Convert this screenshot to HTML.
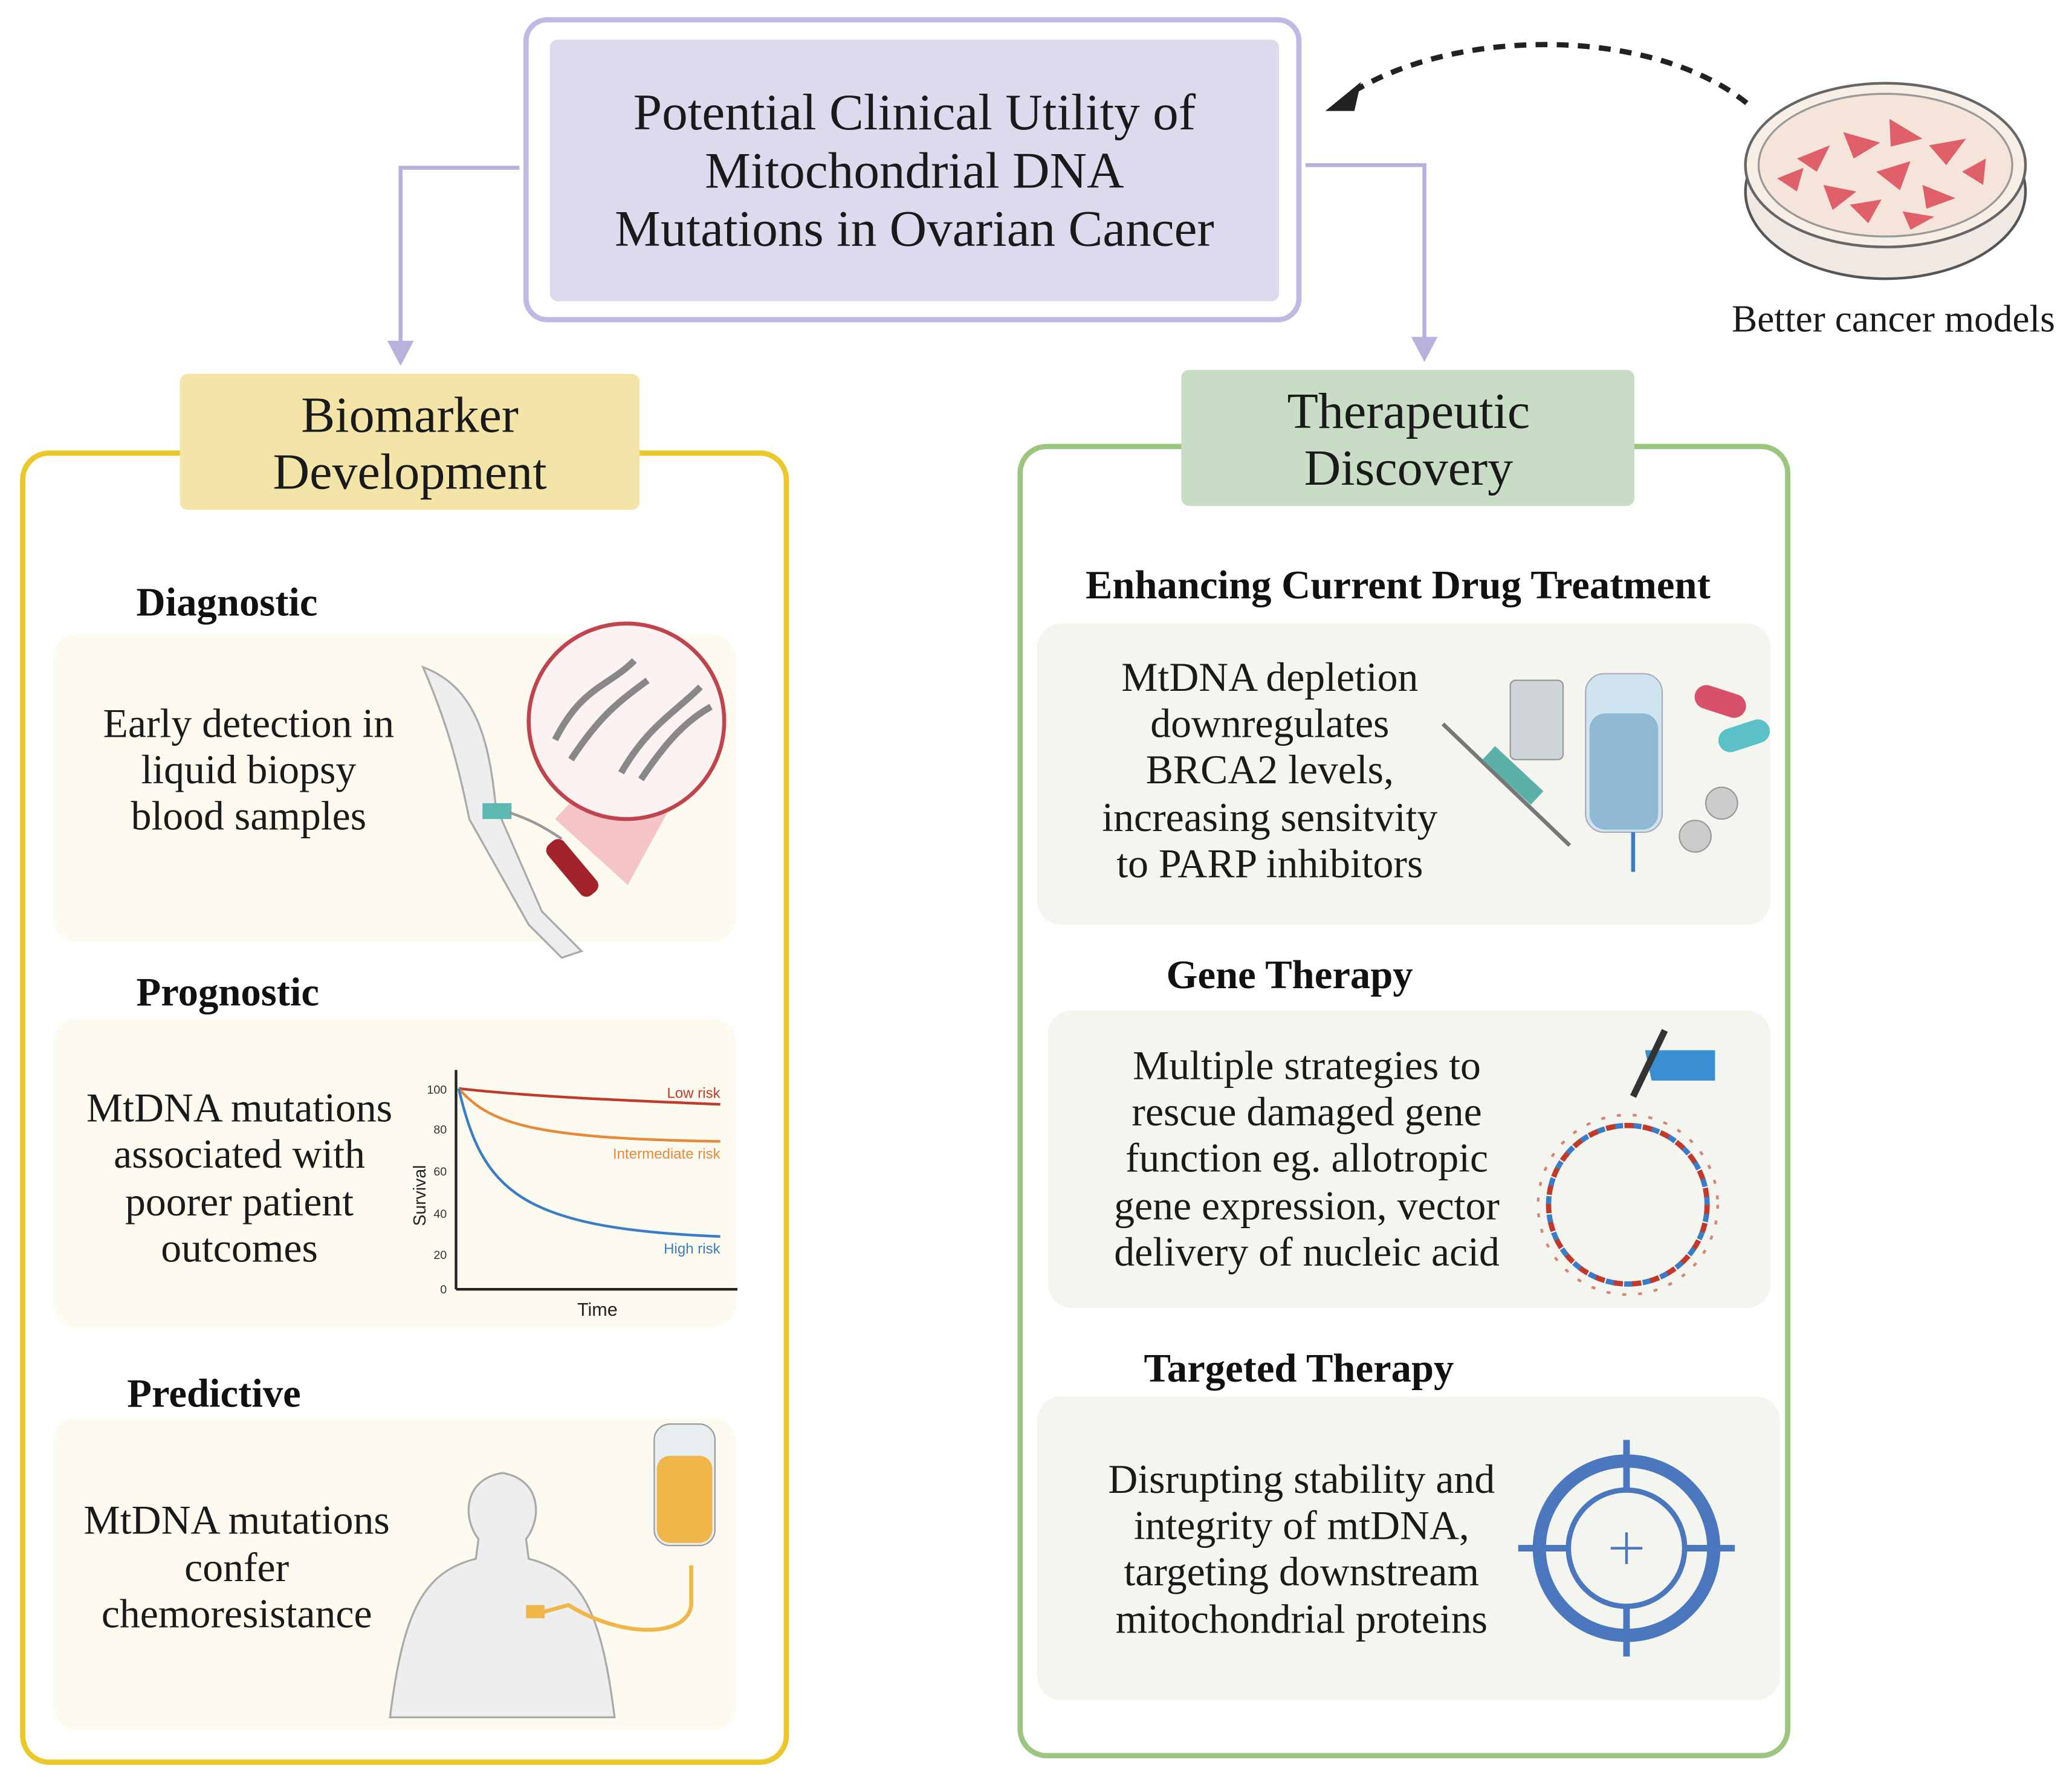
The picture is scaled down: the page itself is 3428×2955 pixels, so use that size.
<!DOCTYPE html>
<html><head><meta charset="utf-8"><style>
html,body{margin:0;padding:0;background:#fff}
svg{display:block}
.t{font-family:"Liberation Serif",serif;fill:#1a1a1a}
.h{font-family:"Liberation Serif",serif;font-weight:bold;fill:#111}
</style></head><body>
<svg width="3428" height="2955" viewBox="0 0 1568 1352" xmlns="http://www.w3.org/2000/svg">
<!-- title -->
<rect x="398" y="15" width="585" height="227" rx="16" fill="#fff" stroke="#c2b8e4" stroke-width="4"/>
<rect x="416" y="30" width="552" height="198" rx="6" fill="#dddaee"/>
<g class="t" font-size="39" text-anchor="middle">
<text x="692" y="98">Potential Clinical Utility of</text>
<text x="692" y="142">Mitochondrial DNA</text>
<text x="692" y="186">Mutations in Ovarian Cancer</text>
</g>
<!-- connectors -->
<polyline points="393,127 303,127 303,262" fill="none" stroke="#b9b0dd" stroke-width="3"/>
<path d="M293,258 L313,258 L303,277 z" fill="#b9b0dd"/>
<polyline points="988,125 1078,125 1078,258" fill="none" stroke="#b9b0dd" stroke-width="3"/>
<path d="M1068,255 L1088,255 L1078,274 z" fill="#b9b0dd"/>
<!-- dashed curve -->
<path d="M1322,78 C1250,20 1100,20 1020,72" fill="none" stroke="#222" stroke-width="4" stroke-dasharray="9,7"/>
<path d="M1003,84 L1030,62 L1025,84 z" fill="#222"/>
<!-- petri dish -->
<ellipse cx="1427" cy="145" rx="106" ry="66" fill="#f0e8e2" stroke="#555" stroke-width="2"/>
<ellipse cx="1427" cy="125" rx="106" ry="62" fill="#f7efe6" stroke="#666" stroke-width="2"/>
<ellipse cx="1427" cy="125" rx="96" ry="54" fill="#f5e4d9" stroke="#999" stroke-width="1.5"/>
<g fill="#e0606a">
<path d="M1360,120 l25,-10 l-10,20 z"/><path d="M1395,100 l28,8 l-20,12 z"/><path d="M1430,90 l25,15 l-24,6 z"/>
<path d="M1460,110 l28,-5 l-15,20 z"/><path d="M1380,140 l25,5 l-18,14 z"/><path d="M1420,130 l26,-8 l-8,22 z"/>
<path d="M1455,140 l25,10 l-22,8 z"/><path d="M1400,155 l24,-4 l-10,18 z"/><path d="M1345,135 l20,-8 l-5,18 z"/>
<path d="M1485,130 l18,-10 l-2,20 z"/><path d="M1440,160 l24,4 l-18,10 z"/>
</g>
<text class="t" x="1433" y="251" font-size="29" text-anchor="middle">Better cancer models</text>
<!-- left panel -->
<rect x="17" y="343" width="578" height="991" rx="20" fill="#fff" stroke="#ebc72a" stroke-width="4"/>
<rect x="136" y="283" width="348" height="103" rx="6" fill="#f3e4a8"/>
<g class="t" font-size="38.5" text-anchor="middle"><text x="310" y="327">Biomarker</text><text x="310" y="370">Development</text></g>
<text class="h" x="103" y="466" font-size="30.5">Diagnostic</text>
<rect x="40" y="480" width="517" height="233" rx="18" fill="#fdfaf0"/>
<g class="t" font-size="31" text-anchor="middle"><text x="188" y="558">Early detection in</text><text x="188" y="593">liquid biopsy</text><text x="188" y="628">blood samples</text></g>
<!-- arm + magnifier -->
<path d="M320,505 C360,520 370,560 375,610 L410,690 L440,720 L425,725 L400,700 L355,620 C345,570 335,540 320,505 z" fill="#eeeeee" stroke="#aaa" stroke-width="1.5"/>
<path d="M420,620 L475,560 L535,560 L475,670 z" fill="#f3b7bc" opacity="0.8"/>
<circle cx="474" cy="546" r="74" fill="#fdf2f2" stroke="#c0444d" stroke-width="3"/>
<path d="M420,560 C440,520 460,520 480,500 M432,575 C455,540 470,530 490,515" stroke="#888" stroke-width="5" fill="none"/>
<path d="M470,585 C490,550 510,540 530,520 M485,590 C505,560 520,545 538,535" stroke="#888" stroke-width="5" fill="none"/>
<rect x="425" y="632" width="16" height="50" rx="6" transform="rotate(-40 433 657)" fill="#a3232b"/>
<rect x="365" y="608" width="22" height="12" fill="#5cb8b0"/>
<path d="M385,615 C400,620 410,625 425,635" stroke="#999" stroke-width="2" fill="none"/>
<text class="h" x="103" y="761" font-size="30.5">Prognostic</text>
<rect x="40" y="771" width="517" height="234" rx="18" fill="#fdfaf0"/>
<g class="t" font-size="31" text-anchor="middle"><text x="181" y="849">MtDNA mutations</text><text x="181" y="884">associated with</text><text x="181" y="920">poorer patient</text><text x="181" y="955">outcomes</text></g>
<!-- chart -->
<g font-family="Liberation Sans,sans-serif">
<line x1="345" y1="810" x2="345" y2="976" stroke="#222" stroke-width="2"/>
<line x1="345" y1="976" x2="558" y2="976" stroke="#222" stroke-width="2"/>
<g font-size="9" fill="#333" text-anchor="end"><text x="338" y="828">100</text><text x="338" y="858">80</text><text x="338" y="890">60</text><text x="338" y="922">40</text><text x="338" y="953">20</text><text x="338" y="979">0</text></g>
<text x="322" y="905" font-size="13" fill="#222" transform="rotate(-90 322 905)" text-anchor="middle">Survival</text>
<text x="452" y="996" font-size="14" fill="#222" text-anchor="middle">Time</text>
<path d="M347,824 C400,830 470,833 545,836" stroke="#c0392b" stroke-width="2" fill="none"/>
<path d="M347,824 C370,850 400,862 545,864" stroke="#e8893a" stroke-width="2" fill="none"/>
<path d="M347,824 C365,900 390,930 545,936" stroke="#3a7cc6" stroke-width="2" fill="none"/>
<text x="545" y="831" font-size="11" fill="#c0392b" text-anchor="end">Low risk</text>
<text x="545" y="877" font-size="11" fill="#e8893a" text-anchor="end">Intermediate risk</text>
<text x="545" y="949" font-size="11" fill="#3a7cc6" text-anchor="end">High risk</text>
</g>
<text class="h" x="96" y="1065" font-size="30.5">Predictive</text>
<rect x="40" y="1073" width="517" height="237" rx="18" fill="#fdfaf0"/>
<g class="t" font-size="31" text-anchor="middle"><text x="179" y="1161">MtDNA mutations</text><text x="179" y="1197">confer</text><text x="179" y="1232">chemoresistance</text></g>
<!-- person + IV -->
<path d="M295,1300 C305,1220 320,1190 360,1180 L362,1165 C350,1150 350,1120 380,1115 C410,1120 410,1150 398,1165 L400,1180 C440,1190 455,1220 465,1300 z" fill="#eeeeee" stroke="#aaa" stroke-width="1.5"/>
<rect x="495" y="1078" width="46" height="92" rx="12" fill="#e8eef0" stroke="#999"/>
<rect x="497" y="1102" width="42" height="66" rx="10" fill="#f0b64a"/>
<path d="M523,1185 L523,1215 C520,1240 470,1240 430,1215 L405,1222" stroke="#f0b64a" stroke-width="3" fill="none"/>
<rect x="398" y="1215" width="14" height="10" fill="#f0b64a"/>
<!-- right panel -->
<rect x="772" y="338" width="581" height="991" rx="20" fill="#fff" stroke="#9cc57f" stroke-width="4"/>
<rect x="894" y="280" width="343" height="103" rx="6" fill="#c9dcc6"/>
<g class="t" font-size="38.5" text-anchor="middle"><text x="1066" y="324">Therapeutic</text><text x="1066" y="367">Discovery</text></g>
<text class="h" x="1058" y="453" font-size="30.5" text-anchor="middle">Enhancing Current Drug Treatment</text>
<rect x="785" y="472" width="555" height="228" rx="18" fill="#f3f5ee"/>
<g class="t" font-size="31" text-anchor="middle"><text x="961" y="523">MtDNA depletion</text><text x="961" y="558">downregulates</text><text x="961" y="593">BRCA2 levels,</text><text x="961" y="629">increasing sensitvity</text><text x="961" y="664">to PARP inhibitors</text></g>
<!-- drug icons -->
<line x1="1092" y1="548" x2="1188" y2="640" stroke="#777" stroke-width="3"/>
<rect x="1120" y="580" width="50" height="14" transform="rotate(43 1145 587)" fill="#5bb0a7"/>
<rect x="1143" y="515" width="40" height="60" rx="4" fill="#cfd4d8" stroke="#999"/>
<rect x="1200" y="510" width="58" height="120" rx="14" fill="#cfe4ee" stroke="#aab"/>
<rect x="1203" y="540" width="52" height="88" rx="12" fill="#8fb9d3"/>
<line x1="1236" y1="630" x2="1236" y2="660" stroke="#3a7cc6" stroke-width="3"/>
<rect x="1282" y="522" width="40" height="18" rx="9" transform="rotate(18 1302 531)" fill="#d9506a"/>
<rect x="1300" y="548" width="40" height="18" rx="9" transform="rotate(-18 1320 557)" fill="#5bc0c8"/>
<circle cx="1303" cy="608" r="12" fill="#ccc" stroke="#999"/>
<circle cx="1283" cy="633" r="12" fill="#ccc" stroke="#999"/>
<text class="h" x="976" y="748" font-size="30.5" text-anchor="middle">Gene Therapy</text>
<rect x="793" y="765" width="547" height="225" rx="18" fill="#f3f5ee"/>
<g class="t" font-size="31" text-anchor="middle"><text x="989" y="817">Multiple strategies to</text><text x="989" y="852">rescue damaged gene</text><text x="989" y="887">function eg. allotropic</text><text x="989" y="923">gene expression, vector</text><text x="989" y="958">delivery of nucleic acid</text></g>
<circle cx="1232" cy="912" r="60" fill="none" stroke="#c0392b" stroke-width="4" stroke-dasharray="8,6"/>
<circle cx="1232" cy="912" r="60" fill="none" stroke="#3a7cc6" stroke-width="4" stroke-dasharray="6,8" stroke-dashoffset="7"/>
<circle cx="1232" cy="912" r="68" fill="none" stroke="#c0392b" stroke-width="2" stroke-dasharray="3,9" opacity="0.6"/>
<path d="M1245,795 L1298,795 L1298,818 L1250,818 z" fill="#3a8fd0"/>
<line x1="1236" y1="830" x2="1260" y2="780" stroke="#333" stroke-width="5"/>
<text class="h" x="983" y="1046" font-size="30.5" text-anchor="middle">Targeted Therapy</text>
<rect x="785" y="1057" width="562" height="230" rx="18" fill="#f3f5ee"/>
<g class="t" font-size="31" text-anchor="middle"><text x="985" y="1130">Disrupting stability and</text><text x="985" y="1165">integrity of mtDNA,</text><text x="985" y="1200">targeting downstream</text><text x="985" y="1236">mitochondrial proteins</text></g>
<g stroke="#4a77bd" fill="none">
<circle cx="1231" cy="1172" r="66" stroke-width="10"/>
<circle cx="1231" cy="1172" r="44" stroke-width="4"/>
<line x1="1231" y1="1090" x2="1231" y2="1128" stroke-width="5"/>
<line x1="1231" y1="1216" x2="1231" y2="1254" stroke-width="5"/>
<line x1="1149" y1="1172" x2="1187" y2="1172" stroke-width="5"/>
<line x1="1275" y1="1172" x2="1313" y2="1172" stroke-width="5"/>
<line x1="1231" y1="1160" x2="1231" y2="1184" stroke-width="2"/>
<line x1="1219" y1="1172" x2="1243" y2="1172" stroke-width="2"/>
</g>
</svg>
</body></html>
